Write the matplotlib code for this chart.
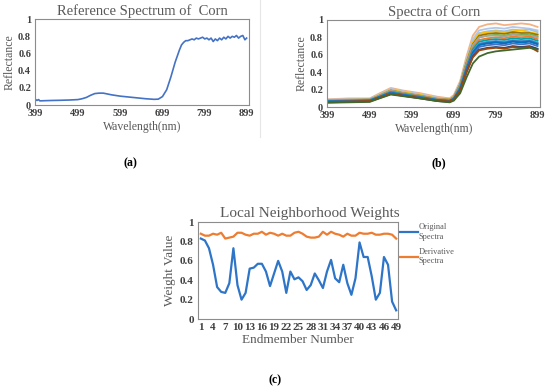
import numpy as np
import matplotlib
matplotlib.use("Agg")
import matplotlib.pyplot as plt
from matplotlib.lines import Line2D

plt.rcParams['font.family'] = ['Liberation Serif', 'DejaVu Serif']
GRAY = '#595959'
TICK = '#404040'

# (a) reference spectrum
wave_a = [399, 403, 407, 410, 420, 440, 460, 480, 500, 510, 520, 530, 540, 550, 560, 570, 580,
          600, 620, 640, 660, 680, 690, 700, 710, 720, 730, 740,
          745, 750, 755, 760, 765, 770, 775, 780, 785, 790, 795, 800, 805, 810, 815, 820, 825,
          830, 835, 840, 845, 850, 855, 860, 865, 870, 875, 880, 885, 890, 895, 899]
refl_a = [0.07, 0.055, 0.065, 0.05, 0.052, 0.055, 0.057, 0.06, 0.065, 0.075, 0.09, 0.115, 0.135,
          0.14, 0.14, 0.13, 0.12, 0.105, 0.095, 0.085, 0.075, 0.068, 0.07, 0.10, 0.18, 0.33, 0.50,
          0.64, 0.70, 0.73, 0.75, 0.75, 0.76, 0.77, 0.76, 0.78, 0.77, 0.78, 0.79, 0.77, 0.78, 0.76,
          0.78, 0.74, 0.77, 0.75, 0.78, 0.76, 0.79, 0.77, 0.80, 0.78, 0.80, 0.79, 0.81, 0.78, 0.80,
          0.81, 0.76, 0.78]

# (b) spectra of corn samples
wave_b = [399, 450, 500, 520, 550, 580, 620, 660, 690, 700, 715, 730, 745, 760, 780, 800, 820, 840, 860, 880, 899]
spec_peach = [0.09, 0.10, 0.10, 0.15, 0.22, 0.19, 0.16, 0.12, 0.10, 0.14, 0.30, 0.58, 0.82, 0.92, 0.95, 0.96, 0.94, 0.95, 0.96, 0.95, 0.92]
spec_gray = [0.085, 0.09, 0.095, 0.14, 0.21, 0.18, 0.15, 0.11, 0.095, 0.13, 0.28, 0.55, 0.78, 0.88, 0.90, 0.91, 0.90, 0.92, 0.91, 0.90, 0.88]
spec_ltblue = [0.08, 0.085, 0.09, 0.13, 0.20, 0.17, 0.14, 0.10, 0.09, 0.12, 0.27, 0.53, 0.75, 0.85, 0.87, 0.88, 0.87, 0.89, 0.88, 0.89, 0.86]
spec_gold = [0.08, 0.085, 0.09, 0.13, 0.20, 0.17, 0.14, 0.10, 0.09, 0.12, 0.26, 0.52, 0.74, 0.84, 0.86, 0.87, 0.86, 0.87, 0.88, 0.86, 0.84]
spec_dkgold = [0.075, 0.08, 0.085, 0.125, 0.19, 0.16, 0.13, 0.095, 0.085, 0.115, 0.26, 0.51, 0.72, 0.82, 0.84, 0.85, 0.84, 0.86, 0.85, 0.85, 0.83]
spec_green = [0.075, 0.08, 0.085, 0.12, 0.19, 0.16, 0.13, 0.09, 0.08, 0.11, 0.25, 0.50, 0.70, 0.80, 0.82, 0.83, 0.82, 0.84, 0.83, 0.84, 0.81]
spec_midgray = [0.08, 0.085, 0.09, 0.125, 0.19, 0.16, 0.13, 0.095, 0.085, 0.115, 0.25, 0.50, 0.71, 0.80, 0.82, 0.82, 0.81, 0.83, 0.82, 0.82, 0.80]
spec_orange = [0.07, 0.075, 0.08, 0.12, 0.18, 0.155, 0.125, 0.09, 0.08, 0.11, 0.24, 0.48, 0.68, 0.77, 0.79, 0.80, 0.79, 0.81, 0.80, 0.81, 0.78]
spec_teal = [0.07, 0.075, 0.08, 0.115, 0.175, 0.15, 0.12, 0.085, 0.075, 0.10, 0.23, 0.46, 0.66, 0.75, 0.77, 0.78, 0.77, 0.79, 0.78, 0.79, 0.76]
spec_blue1 = [0.065, 0.07, 0.075, 0.11, 0.17, 0.145, 0.115, 0.08, 0.07, 0.10, 0.22, 0.45, 0.64, 0.73, 0.75, 0.76, 0.75, 0.77, 0.76, 0.77, 0.74]
spec_blue2 = [0.06, 0.065, 0.07, 0.11, 0.165, 0.14, 0.115, 0.08, 0.07, 0.095, 0.21, 0.44, 0.63, 0.72, 0.74, 0.75, 0.74, 0.76, 0.75, 0.76, 0.73]
spec_blue3 = [0.065, 0.07, 0.075, 0.11, 0.165, 0.14, 0.11, 0.08, 0.07, 0.095, 0.21, 0.43, 0.62, 0.71, 0.73, 0.74, 0.73, 0.75, 0.74, 0.75, 0.72]
spec_blue4 = [0.06, 0.065, 0.07, 0.105, 0.16, 0.135, 0.11, 0.075, 0.065, 0.09, 0.20, 0.42, 0.60, 0.69, 0.71, 0.72, 0.71, 0.73, 0.72, 0.73, 0.70]
spec_dkblue = [0.055, 0.06, 0.065, 0.10, 0.15, 0.13, 0.10, 0.07, 0.06, 0.085, 0.19, 0.40, 0.58, 0.66, 0.68, 0.69, 0.68, 0.70, 0.69, 0.70, 0.67]
spec_brown = [0.06, 0.065, 0.07, 0.10, 0.155, 0.13, 0.105, 0.075, 0.065, 0.09, 0.19, 0.40, 0.57, 0.65, 0.67, 0.68, 0.67, 0.69, 0.68, 0.69, 0.64]
spec_dkgreen = [0.05, 0.055, 0.06, 0.095, 0.145, 0.125, 0.10, 0.07, 0.055, 0.075, 0.16, 0.34, 0.50, 0.58, 0.62, 0.64, 0.65, 0.66, 0.67, 0.68, 0.66]
spectra_b = [spec_peach, spec_gray, spec_ltblue, spec_gold, spec_dkgold, spec_green, spec_midgray,
             spec_orange, spec_teal, spec_blue1, spec_blue2, spec_blue3, spec_blue4, spec_dkblue,
             spec_brown, spec_dkgreen]
colors_b = ['#F4B183', '#B4C7E7', '#9DC3E6', '#FFC000', '#997300', '#70AD47', '#A5A5A5',
            '#ED7D31', '#00A5A5', '#5B9BD5', '#2E75B6', '#0070C0', '#4472C4', '#264478',
            '#9E480E', '#43682B']

# (c) local neighborhood weights
endmembers = list(range(1, 50))
original = [0.83, 0.81, 0.73, 0.56, 0.33, 0.28, 0.27, 0.37, 0.73, 0.35, 0.20, 0.27, 0.52, 0.53,
            0.57, 0.57, 0.49, 0.34, 0.47, 0.60, 0.49, 0.27, 0.49, 0.41, 0.43, 0.39, 0.30, 0.35,
            0.47, 0.40, 0.32, 0.49, 0.61, 0.42, 0.38, 0.56, 0.37, 0.25, 0.42, 0.79, 0.64, 0.64,
            0.44, 0.20, 0.27, 0.64, 0.56, 0.18, 0.09]
derivative = [0.88, 0.86, 0.86, 0.88, 0.87, 0.89, 0.83, 0.84, 0.85, 0.89, 0.89, 0.87, 0.86, 0.88,
              0.88, 0.90, 0.87, 0.89, 0.88, 0.86, 0.88, 0.86, 0.86, 0.89, 0.90, 0.88, 0.85, 0.84,
              0.84, 0.85, 0.90, 0.87, 0.90, 0.88, 0.87, 0.85, 0.88, 0.86, 0.86, 0.89, 0.88, 0.88,
              0.89, 0.87, 0.87, 0.88, 0.88, 0.87, 0.83]

fig = plt.figure(figsize=(5.5, 3.91), dpi=100)


def style(ax, size):
    for s in ax.spines.values():
        s.set_color('#8c8c8c')
        s.set_linewidth(0.8)
    ax.tick_params(length=0, labelsize=size, colors=TICK, pad=3)
    for lab in ax.get_xticklabels() + ax.get_yticklabels():
        lab.set_fontweight('bold')


def spectrum_axes(rect, title):
    ax = fig.add_axes(rect)
    ax.set_xlim(399, 905)
    ax.set_ylim(0, 1)
    ax.set_xticks([399, 499, 599, 699, 799, 899])
    ax.set_yticks([0, 0.2, 0.4, 0.6, 0.8, 1])
    ax.set_yticklabels(['0', '0.2', '0.4', '0.6', '0.8', '1'])
    ax.set_title(title, fontsize=10.5, color=GRAY, pad=3)
    ax.set_xlabel('Wavelength(nm)', fontsize=8.5, color=GRAY, labelpad=2)
    ax.set_ylabel('Reflectance', fontsize=8.5, color=GRAY, labelpad=2)
    style(ax, 7.5)
    return ax


ax1 = spectrum_axes([0.064, 0.731, 0.389, 0.22], 'Reference Spectrum of  Corn')
ax1.plot(wave_a, refl_a, color='#4472C4', lw=1.2)

ax2 = spectrum_axes([0.595, 0.726, 0.387, 0.223], 'Spectra of Corn')
for spec, c in zip(spectra_b, colors_b):
    ax2.plot(wave_b, spec, color=c, lw=1.3)

ax3 = fig.add_axes([0.36, 0.184, 0.364, 0.248])
ax3.plot(endmembers, original, color='#2E75C8', lw=1.6, label='Original\nSpectra')
ax3.plot(endmembers, derivative, color='#ED7D31', lw=1.6, label='Derivative\nSpectra')
ax3.set_xlim(0.3, 49.5)
ax3.set_ylim(0, 1)
ax3.set_xticks(list(range(1, 50, 3)))
ax3.set_yticks([0, 0.2, 0.4, 0.6, 0.8, 1])
ax3.set_yticklabels(['0', '0.2', '0.4', '0.6', '0.8', '1'])
ax3.set_xlabel('Endmember Number', fontsize=9.5, color=GRAY, labelpad=1)
ax3.set_ylabel('Weight Value', fontsize=9.5, color=GRAY, labelpad=3)
ax3.set_title('Local Neighborhood Weights', fontsize=11, color=GRAY, pad=4, x=0.56)
style(ax3, 8)
ax3.legend(loc='upper left', bbox_to_anchor=(0.99, 1.02), frameon=False, fontsize=6,
           handlelength=2.2, handletextpad=0.1, labelspacing=0.9, labelcolor=GRAY, borderaxespad=0)

# chart-area border between (a) and (b)
fig.add_artist(Line2D([0.473, 0.473], [0.65, 1.0], color='#e6e6e6', lw=0.8))

fig.text(0.238, 0.583, '(a)', fontsize=8.5, fontweight='bold', ha='center', va='center')
fig.text(0.798, 0.583, '(b)', fontsize=8.5, fontweight='bold', ha='center', va='center')
fig.text(0.5, 0.028, '(c)', fontsize=8.5, fontweight='bold', ha='center', va='center')

fig.savefig('out.png', dpi=100)
